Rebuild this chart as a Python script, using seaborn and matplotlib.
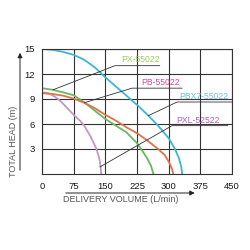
import matplotlib
matplotlib.use("Agg")
import matplotlib.pyplot as plt
import pandas as pd
import seaborn as sns

# ---- data ----
models = ["PBX7-55022", "PX-55022", "PXL-52522", "PB-55022"]

pbx7_flow = [0, 25, 50, 75, 100, 125, 150, 175, 200, 225, 250, 275, 300, 315, 325, 330, 332]
pbx7_head = [15, 14.9, 14.65, 14.3, 13.7, 12.8, 11.6, 10.5, 9.4, 8.3, 7.1, 5.8, 4.3, 3.0, 1.8, 0.8, 0]

px_flow = [0, 25, 50, 75, 100, 125, 150, 175, 200, 225, 240, 250, 258, 264]
px_head = [10.3, 10.1, 9.8, 9.45, 8.6, 7.6, 6.6, 5.8, 5.0, 3.7, 2.6, 1.8, 1.0, 0]

pxl_flow = [0, 15, 30, 45, 60, 75, 90, 100, 115, 129, 136, 139, 140]
pxl_head = [9.8, 9.7, 9.3, 8.7, 7.9, 7.1, 6.4, 5.8, 4.5, 3.0, 1.8, 0.8, 0]

pb_flow = [0, 25, 50, 75, 100, 125, 150, 175, 200, 225, 250, 275, 290, 300, 308, 311]
pb_head = [9.7, 9.6, 9.4, 9.05, 8.55, 7.9, 7.1, 6.4, 5.6, 4.9, 4.0, 3.0, 2.3, 1.5, 0.6, 0]

x_ticks = [0, 75, 150, 225, 300, 375, 450]
y_ticks = [3, 6, 9, 12, 15]

curve_colors = {"PBX7-55022": "#3cb6d3", "PX-55022": "#64ba60",
                "PXL-52522": "#c596c9", "PB-55022": "#e2714a"}
label_colors = {"PBX7-55022": "#6cc3e3", "PX-55022": "#9acb5e",
                "PXL-52522": "#b45fc0", "PB-55022": "#e0449a"}

frames = []
for name, q, h in [("PBX7-55022", pbx7_flow, pbx7_head), ("PX-55022", px_flow, px_head),
                   ("PXL-52522", pxl_flow, pxl_head), ("PB-55022", pb_flow, pb_head)]:
    frames.append(pd.DataFrame({"model": name, "flow": q, "head": h}))
df = pd.concat(frames, ignore_index=True)

# ---- style ----
sns.set_theme(style="white")
plt.rcParams['font.family'] = ['Liberation Sans', 'DejaVu Sans']

fig = plt.figure(figsize=(2.5, 2.5), dpi=100)
ax = fig.add_axes([0.168, 0.304, 0.76, 0.5])

sns.lineplot(data=df, x="flow", y="head", hue="model", hue_order=models,
             palette=curve_colors, sort=False, estimator=None, units="model",
             linewidth=1.3, legend=False, ax=ax)

ax.set_xlim(0, 450)
ax.set_ylim(0, 15)
ax.set_xticks(x_ticks)
ax.set_yticks(y_ticks)
ax.set_xticklabels([str(v) for v in x_ticks])
ax.set_yticklabels([str(v) for v in y_ticks])
ax.set_xlabel("")
ax.set_ylabel("")
ax.grid(True, color="#333333", linewidth=0.8)
ax.set_axisbelow(True)
for sp in ax.spines.values():
    sp.set_visible(True)
    sp.set_color("#333333")
    sp.set_linewidth(0.8)
ax.tick_params(axis="both", length=0, labelsize=6.8, colors="#1a1a1a")
ax.tick_params(axis="x", pad=5.5)
ax.tick_params(axis="y", pad=5)

# ---- leader lines and model labels ----
leaders = {
    "PX-55022": ([26, 173, 279], [10.1, 13.0, 13.0], (187, 13.4)),
    "PB-55022": ([100, 213, 332], [8.55, 10.3, 10.3], (234, 10.7)),
    "PBX7-55022": ([252, 320, 450], [7.0, 8.64, 8.64], (324, 9.0)),
    "PXL-52522": ([137, 308, 440], [0.84, 5.8, 5.8], (317, 6.15)),
}
for name, (lx, ly, (tx, ty)) in leaders.items():
    ax.plot(lx, ly, color="#333333", linewidth=0.6, clip_on=False, zorder=3)
    ax.text(tx, ty, name, color=label_colors[name], fontsize=6.2,
            ha="left", va="baseline", zorder=4)

# ---- axis titles with arrows ----
fig.text(0.252, 0.202, "DELIVERY VOLUME (L/min)", fontsize=6.5, color="#555555",
         ha="left", va="center")
ax.annotate("", xy=(0.79, 0.228), xytext=(0.252, 0.228), xycoords="figure fraction",
            arrowprops=dict(arrowstyle="-|>", color="#222222", lw=0.7, mutation_scale=7))
fig.text(0.054, 0.436, "TOTAL HEAD (m)", fontsize=6.5, color="#555555",
         ha="center", va="center", rotation=90)
ax.annotate("", xy=(0.08, 0.80), xytext=(0.08, 0.308), xycoords="figure fraction",
            arrowprops=dict(arrowstyle="-|>", color="#222222", lw=0.7, mutation_scale=7))

fig.savefig("out.png", dpi=100)
